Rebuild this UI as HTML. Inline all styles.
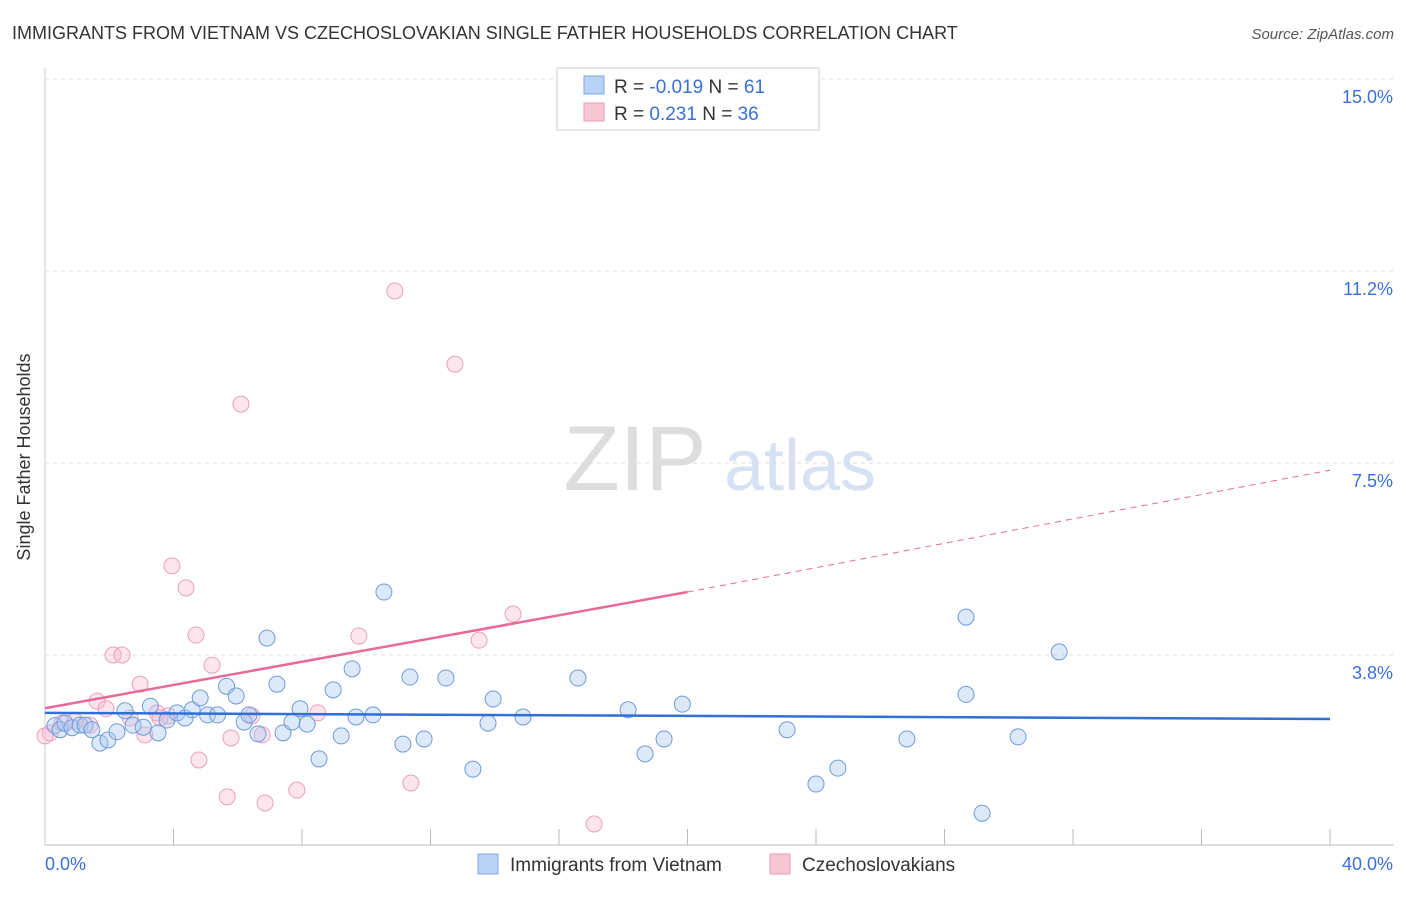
<!DOCTYPE html>
<html><head><meta charset="utf-8"><style>
body{margin:0;background:#fff;font-family:"Liberation Sans",sans-serif;}
svg text{font-family:"Liberation Sans",sans-serif;}
</style></head><body>
<svg id="c" width="1406" height="892">
<text x="12" y="39" font-size="18" fill="#333">IMMIGRANTS FROM VIETNAM VS CZECHOSLOVAKIAN SINGLE FATHER HOUSEHOLDS CORRELATION CHART</text>
<text x="1394" y="39" font-size="15" fill="#555" font-style="italic" text-anchor="end">Source: ZipAtlas.com</text>
<text x="30" y="457" font-size="18" fill="#333" text-anchor="middle" transform="rotate(-90 30 457)">Single Father Households</text>
<g><text x="635" y="490" font-size="92" fill="#ddd" font-family="Liberation Serif" text-anchor="middle">ZIP</text><text x="800" y="490" font-size="72" fill="#d6e2f3" text-anchor="middle">atlas</text></g>
<g id="grid"></g><g id="marks"></g>
<g>
<rect x="557" y="68" width="262" height="62" fill="#fff" stroke="#ccc"/>
<rect x="584" y="76" width="20" height="18" fill="#b8d3f5" stroke="#7aa6e0"/>
<rect x="584" y="103" width="20" height="18" fill="#f9c6d6" stroke="#e99ab4"/>
<text x="614" y="93" font-size="19" fill="#333">R = <tspan fill="#3a6fd8">-0.019</tspan>   N =  <tspan fill="#3a6fd8">61</tspan></text>
<text x="614" y="120" font-size="19" fill="#333">R =   <tspan fill="#3a6fd8">0.231</tspan>   N = <tspan fill="#3a6fd8">36</tspan></text>
</g>
<g>
<rect x="478" y="854" width="20" height="20" fill="#b8d3f5" stroke="#7aa6e0"/>
<text x="510" y="871" font-size="19" fill="#333">Immigrants from Vietnam</text>
<rect x="770" y="854" width="20" height="20" fill="#f9c6d6" stroke="#e99ab4"/>
<text x="802" y="871" font-size="19" fill="#333">Czechoslovakians</text>
</g>
</svg>
<script>
const xTicks=[0,40];
const yTicks=[3.75,7.5,11.25,15];
const yTickLabels=["3.8%","7.5%","11.2%","15.0%"];
const blueX=[0.31,0.47,0.62,0.84,1.09,1.25,1.46,1.71,1.96,2.24,2.49,2.74,3.06,3.28,3.52,3.80,4.11,4.36,4.58,4.83,5.06,5.37,5.65,5.95,6.20,6.35,6.63,6.91,7.22,7.41,7.69,7.94,8.16,8.53,8.97,9.22,9.56,9.68,10.21,10.55,11.14,11.36,11.80,12.48,13.32,13.79,13.95,14.88,16.59,18.15,18.68,19.27,19.84,23.10,24.00,24.68,26.83,28.67,28.67,29.17,30.29,31.57];
const blueY=[2.37,2.29,2.42,2.33,2.38,2.38,2.29,2.03,2.09,2.25,2.66,2.38,2.34,2.75,2.23,2.48,2.62,2.52,2.68,2.91,2.58,2.58,3.14,2.95,2.44,2.58,2.21,4.08,3.18,2.23,2.44,2.70,2.40,1.72,3.07,2.17,3.48,2.54,2.58,4.98,2.01,3.32,2.11,3.30,1.52,2.42,2.89,2.54,3.30,2.68,1.82,2.11,2.79,2.29,1.23,1.54,2.11,4.49,2.98,0.66,2.15,3.81];
const pinkX=[0.16,0.53,1.40,1.62,1.90,2.12,2.40,2.96,3.11,3.49,3.83,3.95,4.39,4.70,4.79,5.20,5.67,5.79,6.10,6.44,6.76,6.85,7.84,8.49,9.77,10.89,11.39,12.76,13.51,14.57,17.09,0,0.93,2.65,3.58];
const pinkY=[2.23,2.42,2.38,2.85,2.70,3.75,3.75,3.18,2.19,2.62,2.56,5.49,5.06,4.14,1.70,3.55,0.98,2.13,8.65,2.56,2.19,0.86,1.11,2.62,4.12,10.86,1.25,9.43,4.04,4.55,0.45,2.17,2.46,2.52,2.52];
const blueTrend=[2.62,2.50];
const pinkTrend=[2.71,4.98,7.36];
const X=v=>45+v/40*1285, Y=v=>847-v*51.2;
const NS="http://www.w3.org/2000/svg";
function mk(p,t,a){const e=document.createElementNS(NS,t);for(const k in a)e.setAttribute(k,a[k]);p.appendChild(e);return e;}
const g=document.getElementById('grid'),m=document.getElementById('marks');
yTicks.forEach((v,i)=>{
 const l=mk(g,'line',{x1:45,x2:1394,y1:Y(v),y2:Y(v),stroke:'#ddd','stroke-dasharray':'4,4'});
 
 
 const t=mk(g,'text',{x:1393,y:Y(v)+24,'font-size':18,fill:'#3a6fd8','text-anchor':'end'});t.textContent=yTickLabels[i];
 
 
});
const ax=mk(g,'line',{x1:45,x2:1394,y1:845,y2:845,stroke:'#bbb'});


const ay=mk(g,'line',{x1:45,x2:45,y1:68,y2:845,stroke:'#ccc'});


for(let i=1;i<=10;i++){const tk=mk(g,'line',{x1:X(i*4),x2:X(i*4),y1:829,y2:845,stroke:'#bbb'});
 
 }
xTicks.forEach((v,i)=>{const t=mk(g,'text',{x:i?1393:45,y:870,'font-size':18,fill:'#3a6fd8','text-anchor':i?'end':'start'});t.textContent=v.toFixed(1)+'%';
 
 });
pinkX.forEach((x,i)=>{const c=mk(m,'circle',{cx:X(x),cy:Y(pinkY[i]),r:8,fill:'rgba(249,180,202,0.35)',stroke:'#eaa0ba','stroke-width':1});
 
 });
blueX.forEach((x,i)=>{const c=mk(m,'circle',{cx:X(x),cy:Y(blueY[i]),r:8,fill:'rgba(170,200,240,0.4)',stroke:'#6f9bd8','stroke-width':1});
 
 });
const bl=mk(m,'line',{x1:X(0),y1:Y(blueTrend[0]),x2:X(40),y2:Y(blueTrend[1]),stroke:'#2f6fd6','stroke-width':2.5});


const pl=mk(m,'line',{x1:X(0),y1:Y(pinkTrend[0]),x2:X(20),y2:Y(pinkTrend[1]),stroke:'#e8689a','stroke-width':2.5});


const pd=mk(m,'line',{x1:X(20),y1:Y(pinkTrend[1]),x2:X(40),y2:Y(pinkTrend[2]),stroke:'#e8689a','stroke-width':1,'stroke-dasharray':'6,5'});


</script>
</body></html>
